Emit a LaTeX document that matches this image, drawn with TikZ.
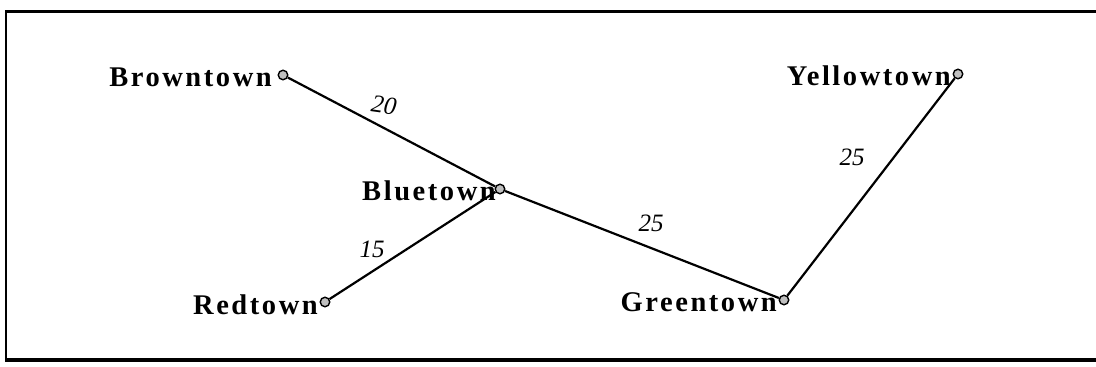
\documentclass[tikz,border=0pt]{standalone}
\usepackage{fontspec}
\setmainfont{Liberation Serif}
\newfontfamily\townfont[LetterSpace=9]{Liberation Serif}
\newfontfamily\handfont{Liberation Serif}
\begin{document}
\begin{tikzpicture}[x=1pt,y=-1pt,
  town/.style={circle,draw=black,fill=gray!50,line width=1.4pt,inner sep=0pt,minimum size=9.5pt},
  townlabel/.style={font=\townfont\bfseries\fontsize{28.5}{30}\selectfont,anchor=east,inner sep=0pt},
  road/.style={line width=2.2pt,black},
  dist/.style={font=\handfont\itshape\fontsize{25}{26}\selectfont,inner sep=0pt}]
\useasboundingbox (0,0) rectangle (1096,367);
\fill[white] (0,0) rectangle (1096,367);
% frame
\draw[line width=3pt] (5,11.5) -- (1096,11.5);
\draw[line width=3.5pt] (5,360) -- (1096,360);
\draw[line width=1.5pt] (6,10) -- (6,361);
% towns
\node[town] (brown) at (283,75) {};
\node[town] (blue) at (500,189) {};
\node[town] (red) at (325,302) {};
\node[town] (green) at (784,300) {};
\node[town] (yellow) at (958,74) {};
% roads
\draw[road] (brown) -- (blue);
\draw[road] (blue) -- (green);
\draw[road] (red) -- (blue);
\draw[road] (green) -- (yellow);
% labels
\node[townlabel] (lbrown) at (272,77) {Browntown};
\node[townlabel] (lblue) at (496,191) {Bluetown};
\node[townlabel] (lred) at (318,305) {Redtown};
\node[townlabel] (lgreen) at (777,302) {Greentown};
\node[townlabel] (lyellow) at (951,76) {Yellowtown};
% distances
\node[dist,rotate=-8] (d1) at (384,105) {20};
\node[dist] (d2) at (372,249) {15};
\node[dist] (d3) at (651,223) {25};
\node[dist] (d4) at (852,157) {25};
\end{tikzpicture}
\end{document}
